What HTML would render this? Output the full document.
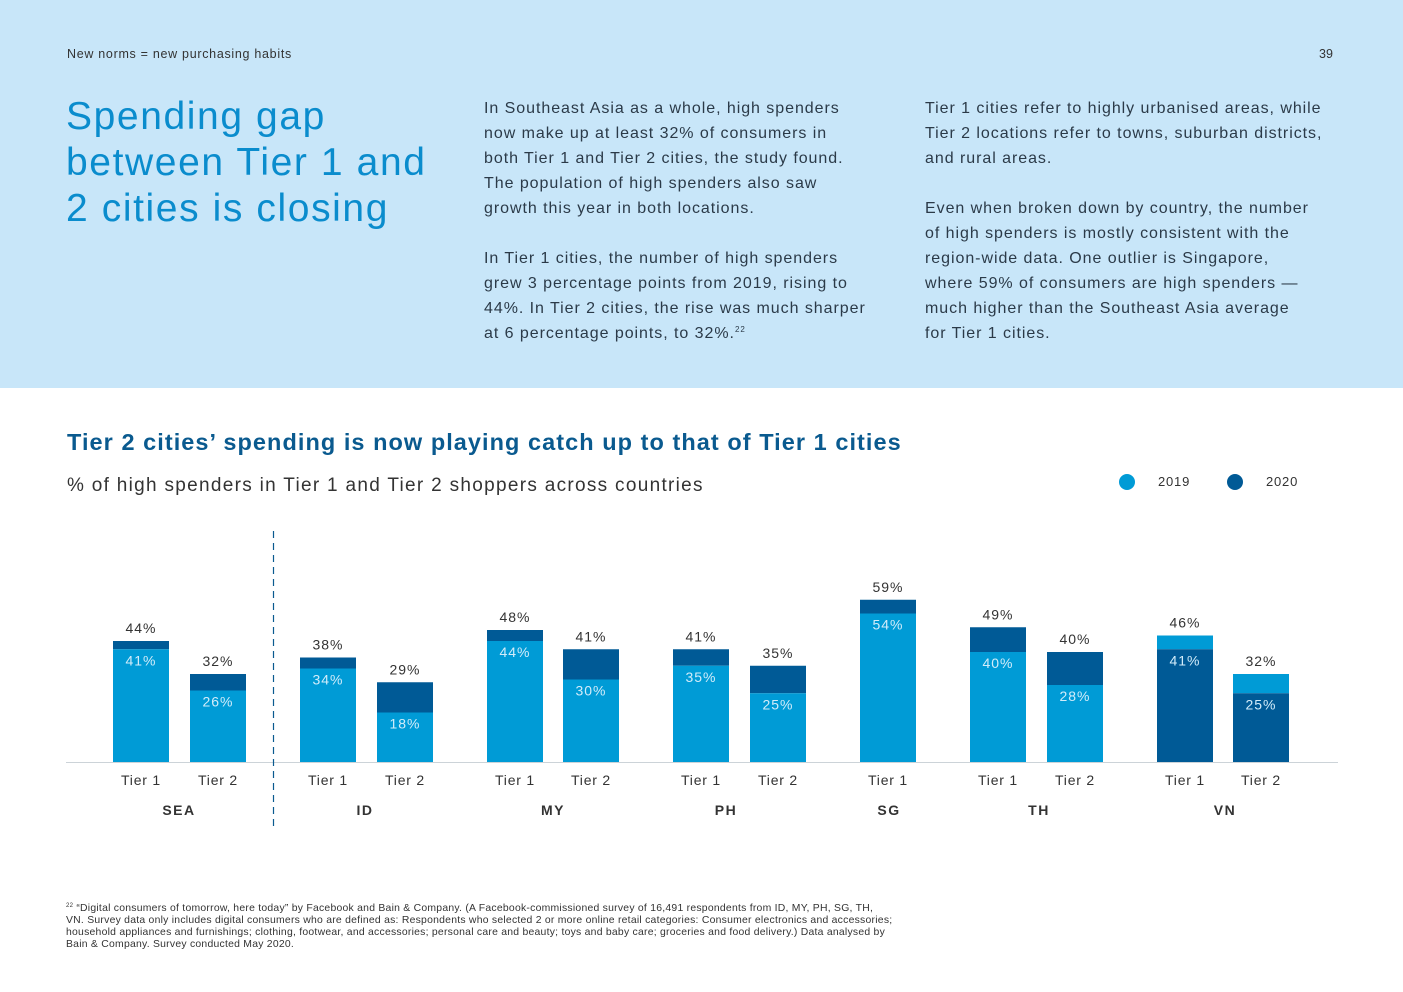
<!DOCTYPE html>
<html><head><meta charset="utf-8">
<style>
body{margin:0;width:1403px;height:992px;background:#fff;font-family:"Liberation Sans",sans-serif;position:relative;overflow:hidden;color:#333}
.band{position:absolute;left:0;top:0;width:1403px;height:388px;background:#c8e6f9}
.abs{position:absolute}
.p{font-size:16px;line-height:25px;letter-spacing:0.95px;color:#2b3a48;white-space:nowrap}
sup{line-height:0;font-size:8px;vertical-align:6px}
</style></head><body>
<div class="band"></div>
<div class="abs" style="left:67px;top:47px;font-size:12.5px;color:#333;letter-spacing:0.7px">New norms = new purchasing habits</div>
<div class="abs" style="left:1319px;top:47px;font-size:12.5px;color:#333">39</div>
<div class="abs" style="left:66px;top:94px;font-size:39px;line-height:46px;color:#0a8ccd;letter-spacing:1.6px">Spending gap<br>between Tier 1 and<br>2 cities is closing</div>
<div class="abs p" style="left:484px;top:96px">In Southeast Asia as a whole, high spenders<br>now make up at least 32% of consumers in<br>both Tier 1 and Tier 2 cities, the study found.<br>The population of high spenders also saw<br>growth this year in both locations.<br><br>In Tier 1 cities, the number of high spenders<br>grew 3 percentage points from 2019, rising to<br>44%. In Tier 2 cities, the rise was much sharper<br>at 6 percentage points, to 32%.<sup>22</sup></div>
<div class="abs p" style="left:925px;top:96px">Tier 1 cities refer to highly urbanised areas, while<br>Tier 2 locations refer to towns, suburban districts,<br>and rural areas.<br><br>Even when broken down by country, the number<br>of high spenders is mostly consistent with the<br>region-wide data. One outlier is Singapore,<br>where 59% of consumers are high spenders —<br>much higher than the Southeast Asia average<br>for Tier 1 cities.</div>
<div class="abs" style="left:67px;top:429px;font-size:23.5px;font-weight:bold;color:#0a5a8f;letter-spacing:1.05px">Tier 2 cities’ spending is now playing catch up to that of Tier 1 cities</div>
<div class="abs" style="left:67px;top:475px;font-size:19px;color:#333;letter-spacing:1.3px">% of high spenders in Tier 1 and Tier 2 shoppers across countries</div>
<div class="abs" style="left:1119px;top:474px;width:16px;height:16px;border-radius:50%;background:#009bd6"></div>
<div class="abs" style="left:1158px;top:474px;font-size:13px;letter-spacing:0.8px">2019</div>
<div class="abs" style="left:1227px;top:474px;width:16px;height:16px;border-radius:50%;background:#005a96"></div>
<div class="abs" style="left:1266px;top:474px;font-size:13px;letter-spacing:0.8px">2020</div>
<svg class="abs" style="left:0;top:0" width="1403" height="992" id="chart"></svg>
<div class="abs" style="left:66px;top:903px;font-size:10.4px;line-height:12px;color:#333;white-space:nowrap;letter-spacing:0.25px"><sup style="font-size:6px;vertical-align:4px">22</sup> “Digital consumers of tomorrow, here today” by Facebook and Bain &amp; Company. (A Facebook-commissioned survey of 16,491 respondents from ID, MY, PH, SG, TH,<br>VN. Survey data only includes digital consumers who are defined as: Respondents who selected 2 or more online retail categories: Consumer electronics and accessories;<br>household appliances and furnishings; clothing, footwear, and accessories; personal care and beauty; toys and baby care; groceries and food delivery.) Data analysed by<br>Bain &amp; Company. Survey conducted May 2020.</div>
<script>
const countries=["SEA","ID","MY","PH","SG","TH","VN"];
const tiers=[["Tier 1","Tier 2"],["Tier 1","Tier 2"],["Tier 1","Tier 2"],["Tier 1","Tier 2"],["Tier 1"],["Tier 1","Tier 2"],["Tier 1","Tier 2"]];
const totals2020=[[44,32],[38,29],[48,41],[41,35],[59],[49,40],[46,32]];
const values2019=[[41,26],[34,18],[44,30],[35,25],[54],[40,28],[41,25]];
const barX=[[113,190],[300,377],[487,563],[673,750],[860],[970,1047],[1157,1233]];
const countryLabelX=[179,365,553,726,889,1039,1225];
const invertedColors=[false,false,false,false,false,false,true];
const NS="http://www.w3.org/2000/svg";
const svg=document.getElementById('chart');
const base=762,k=2.75,bw=56,light="#009bd6",dark="#005a96";
const y=v=>base-v*k;
function mk(tag,attrs,text){const e=document.createElementNS(NS,tag);for(const a in attrs)e.setAttribute(a,attrs[a]);if(text!==undefined)e.textContent=text;svg.appendChild(e);return e;}
const ax=mk('line',{x1:66,x2:1338,y1:base+0.5,y2:base+0.5,stroke:"#ccd3d8","stroke-width":1});


const dl=mk('line',{x1:273.5,x2:273.5,y1:531,y2:828,stroke:"#0a5a8f","stroke-width":1.2,"stroke-dasharray":"7,5"});


countries.forEach((c,i)=>{
  const xs=barX[i];
  const inv=invertedColors[i];
  totals2020[i].forEach((t,j)=>{
    const v=values2019[i][j],x=xs[j];
    const top=mk('rect',{x:x,y:y(t),width:bw,height:(t-v)*k,fill:inv?light:dark});
    
    
    const bot=mk('rect',{x:x,y:y(v),width:bw,height:v*k,fill:inv?dark:light});
    
    
    const tl=mk('text',{x:x+bw/2,y:y(t)-8,"text-anchor":"middle","font-size":14,fill:"#333","letter-spacing":1,"font-family":"Liberation Sans"},t+"%");
    
    
    const il=mk('text',{x:x+bw/2,y:y(v)+16,"text-anchor":"middle","font-size":14,fill:"#d2ecfa","letter-spacing":1,"font-family":"Liberation Sans"},v+"%");
    
    
    const tk=mk('text',{x:x+bw/2,y:785,"text-anchor":"middle","font-size":14,fill:"#333","letter-spacing":0.8,"font-family":"Liberation Sans"},tiers[i][j]);
    
    
  });
  const cl=mk('text',{x:countryLabelX[i],y:815,"text-anchor":"middle","font-size":14,"font-weight":"bold",fill:"#333","letter-spacing":1.5,"font-family":"Liberation Sans"},c);
  
  
});
</script>
</body></html>
